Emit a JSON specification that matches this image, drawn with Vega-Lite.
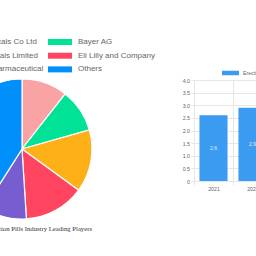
{
  "$schema": "https://vega.github.io/schema/vega-lite/v6.json",
  "padding": {"left": -70, "top": 38, "right": -64, "bottom": 24},
  "spacing": 27,
  "config": {"view": {"stroke": null}, "font": "Liberation Sans"},
  "resolve": {"scale": {"color": "independent"}, "legend": {"color": "independent"}},
  "hconcat": [
    {
      "width": 140,
      "height": 138,
      "title": {
        "text": "Erectile Dysfunction Pills Industry Leading Players",
        "orient": "bottom",
        "anchor": "end",
        "frame": "group",
        "font": "Liberation Serif",
        "fontSize": 6.7,
        "fontWeight": "normal",
        "color": "#333",
        "offset": 4.5
      },
      "data": {
        "values": [
          {"company": "SK Chemicals Co Ltd", "share": 10.6},
          {"company": "Bayer AG", "share": 10.0},
          {"company": "JB Chemicals Limited", "share": 14.4},
          {"company": "Eli Lilly and Company", "share": 14.0},
          {"company": "Torrent Pharmaceutical", "share": 10.0},
          {"company": "Others", "share": 41.0}
        ]
      },
      "transform": [{"window": [{"op": "row_number", "as": "rank"}]}],
      "mark": {"type": "arc", "outerRadius": 70, "stroke": "#ffffff", "strokeWidth": 1.2},
      "encoding": {
        "theta": {"field": "share", "type": "quantitative", "stack": true},
        "order": {"field": "rank", "type": "quantitative", "sort": "ascending"},
        "color": {
          "field": "company",
          "type": "nominal",
          "sort": ["SK Chemicals Co Ltd", "Bayer AG", "JB Chemicals Limited", "Eli Lilly and Company", "Torrent Pharmaceutical", "Others"],
          "scale": {"range": ["#f9a3a4", "#00e396", "#feb019", "#ff4560", "#775dd0", "#008ffb"]},
          "legend": {
            "orient": "none",
            "legendX": -22,
            "legendY": -42,
            "columns": 2,
            "values": ["SK Chemicals Co Ltd", "JB Chemicals Limited", "Torrent Pharmaceutical", "Bayer AG", "Eli Lilly and Company", "Others"],
            "title": null,
            "symbolType": "M-1,-1H7V1H-1Z",
            "symbolSize": 36,
            "symbolStrokeWidth": 0,
            "labelOffset": 23,
            "labelFontSize": 8,
            "labelFont": "Liberation Sans",
            "labelColor": "#666666",
            "labelLimit": 300,
            "rowPadding": 5.7,
            "columnPadding": 3,
            "padding": 0
          }
        }
      }
    },
    {
      "width": 78,
      "height": 101,
      "data": {
        "values": [
          {"year": "2021", "value": 2.6},
          {"year": "2022", "value": 2.9}
        ]
      },
      "layer": [
        {
          "mark": {"type": "bar", "width": {"band": 0.72}},
          "encoding": {
            "x": {
              "field": "year",
              "type": "ordinal",
              "scale": {"paddingInner": 0, "paddingOuter": 0},
              "axis": {
                "title": null,
                "labelAngle": 0,
                "tickBand": "extent",
                "grid": true,
                "gridColor": "#e6e6e6",
                "domainColor": "#e6e6e6",
                "tickColor": "#e6e6e6",
                "tickSize": 4,
                "labelFontSize": 5.2,
                "labelColor": "#666666",
                "labelPadding": 1
              }
            },
            "y": {
              "field": "value",
              "type": "quantitative",
              "scale": {"domain": [0, 4]},
              "axis": {
                "title": null,
                "values": [0, 0.5, 1, 1.5, 2, 2.5, 3, 3.5, 4],
                "tickCount": 9,
                "labelOverlap": false,
                "labelExpr": "datum.value == 0 ? '0' : format(datum.value, '.1f')",
                "grid": true,
                "gridColor": "#e6e6e6",
                "domainColor": "#e6e6e6",
                "tickColor": "#e6e6e6",
                "tickSize": 3,
                "labelFontSize": 5.3,
                "labelColor": "#666666",
                "labelPadding": 1.5
              }
            },
            "color": {
              "datum": "Erectile Dysfunction Pills Industry",
              "scale": {"range": ["#3a9bf0"]},
              "legend": {
                "orient": "none",
                "legendX": 28,
                "legendY": -10,
                "title": null,
                "symbolType": "M-1,-0.75H4.667V0.75H-1Z",
                "symbolSize": 36,
                "symbolStrokeWidth": 0,
                "labelOffset": 15,
                "labelFontSize": 5.3,
                "labelColor": "#666666",
                "padding": 0
              }
            }
          }
        },
        {
          "mark": {"type": "text", "color": "#e3efff", "fontSize": 5, "baseline": "middle"},
          "encoding": {
            "x": {
              "field": "year",
              "type": "ordinal",
              "axis": {
                "title": null,
                "labelAngle": 0,
                "tickBand": "extent",
                "grid": true,
                "gridColor": "#e6e6e6",
                "domainColor": "#e6e6e6",
                "tickColor": "#e6e6e6",
                "tickSize": 4,
                "labelFontSize": 5.2,
                "labelColor": "#666666",
                "labelPadding": 1
              }
            },
            "y": {
              "field": "value",
              "type": "quantitative",
              "stack": "zero",
              "bandPosition": 0.5,
              "axis": {
                "title": null,
                "values": [0, 0.5, 1, 1.5, 2, 2.5, 3, 3.5, 4],
                "tickCount": 9,
                "labelOverlap": false,
                "labelExpr": "datum.value == 0 ? '0' : format(datum.value, '.1f')",
                "grid": true,
                "gridColor": "#e6e6e6",
                "domainColor": "#e6e6e6",
                "tickColor": "#e6e6e6",
                "tickSize": 3,
                "labelFontSize": 5.3,
                "labelColor": "#666666",
                "labelPadding": 1.5
              }
            },
            "text": {"field": "value", "type": "quantitative", "format": ".1f"}
          }
        }
      ]
    }
  ]
}
